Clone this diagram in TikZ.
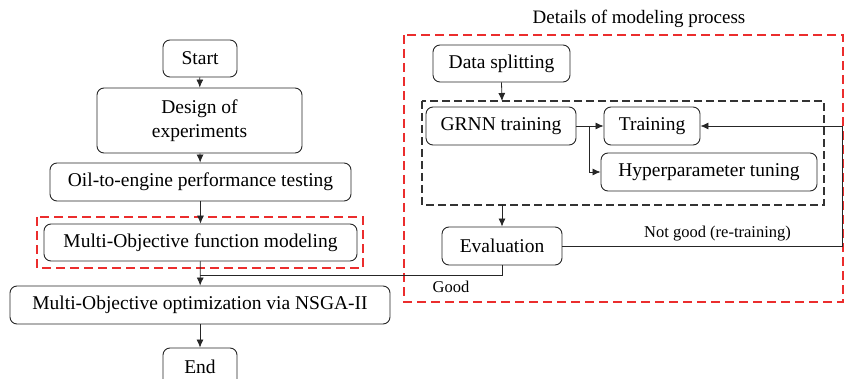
\documentclass[tikz,border=0pt]{standalone}
\usepackage{fontspec}
\setmainfont{Liberation Serif}
\usetikzlibrary{arrows.meta,calc}
\definecolor{dred}{RGB}{235,45,45}
\begin{document}
\begin{tikzpicture}[x=1pt,y=-1pt,
  box/.style={draw=black!85,line width=0.9pt,rounded corners=7pt,inner sep=0pt,align=center,
    font=\rmfamily\fontsize{19.5}{24}\selectfont},
  lbl/.style={font=\rmfamily\fontsize{16.5}{20}\selectfont,inner sep=0pt},
  conn/.style={draw=black!85,line width=0.8pt},
  arr/.style={conn,-{Latex[length=8pt,width=7pt]}},
  reddash/.style={draw=dred,line width=1.4pt,dash pattern=on 9pt off 5pt},
  blackdash/.style={draw=black!80,line width=1.4pt,dash pattern=on 8pt off 4pt}]
\useasboundingbox (0,0) rectangle (845,379);
% left column
\node[box,minimum width=74pt,minimum height=37pt] (start) at (200,58.5) {Start};
\node[box,minimum width=205pt,minimum height=65pt] (doe) at (199.5,120.5) {Design of\\experiments};
\node[box,minimum width=301pt,minimum height=38pt] (oil) at (200.5,182) {Oil-to-engine performance testing};
\node[box,minimum width=313pt,minimum height=37pt] (model) at (200.5,242.5) {Multi-Objective function modeling};
\draw[reddash] (37,217) rectangle (363,268);
\node[box,minimum width=380pt,minimum height=38pt] (opt) at (200,305) {Multi-Objective optimization via NSGA-II};
\node[box,minimum width=74pt,minimum height=38pt] (end) at (200,367) {End};
% right panel
\draw[reddash] (404,35) rectangle (843,302);
\node[lbl,font=\rmfamily\fontsize{19}{22}\selectfont] (title) at (639,19) {Details of modeling process};
\node[box,minimum width=137pt,minimum height=37pt] (split) at (501.5,63.5) {Data splitting};
\draw[blackdash] (422,101) rectangle (824,205);
\coordinate (dtop) at (502,101);
\coordinate (dbot) at (502,205);
\node[box,minimum width=150pt,minimum height=38pt] (grnn) at (501,126) {GRNN training};
\node[box,minimum width=96pt,minimum height=38pt] (train) at (652,126) {Training};
\node[box,minimum width=216pt,minimum height=38pt] (hyper) at (709,172) {Hyperparameter tuning};
\node[box,minimum width=120pt,minimum height=38pt] (eval) at (502,246) {Evaluation};
% connectors
\draw[arr] (start) -- (doe);
\draw[arr] (doe) -- (oil);
\draw[arr] (oil) -- (model);
\draw[arr] (model) -- (opt);
\draw[arr] (opt) -- (end);
\draw[arr] (split.south) -- (dtop);
\draw[arr] (grnn) -- (train);
\coordinate (br) at (589,126);
\draw[arr] (br) |- (hyper.west);
\draw[arr] (dbot) -- (eval.north);
\coordinate (jn) at (200,275);
\draw[conn] (eval.south) |- (jn);
\coordinate (rt) at (842,246);
\draw[arr] (eval.east) -- (rt) |- (train.east);
\node[lbl] (ng) at (717.5,234) {Not good (re-training)};
\node[lbl] (good) at (451,287) {Good};
\end{tikzpicture}
\end{document}
